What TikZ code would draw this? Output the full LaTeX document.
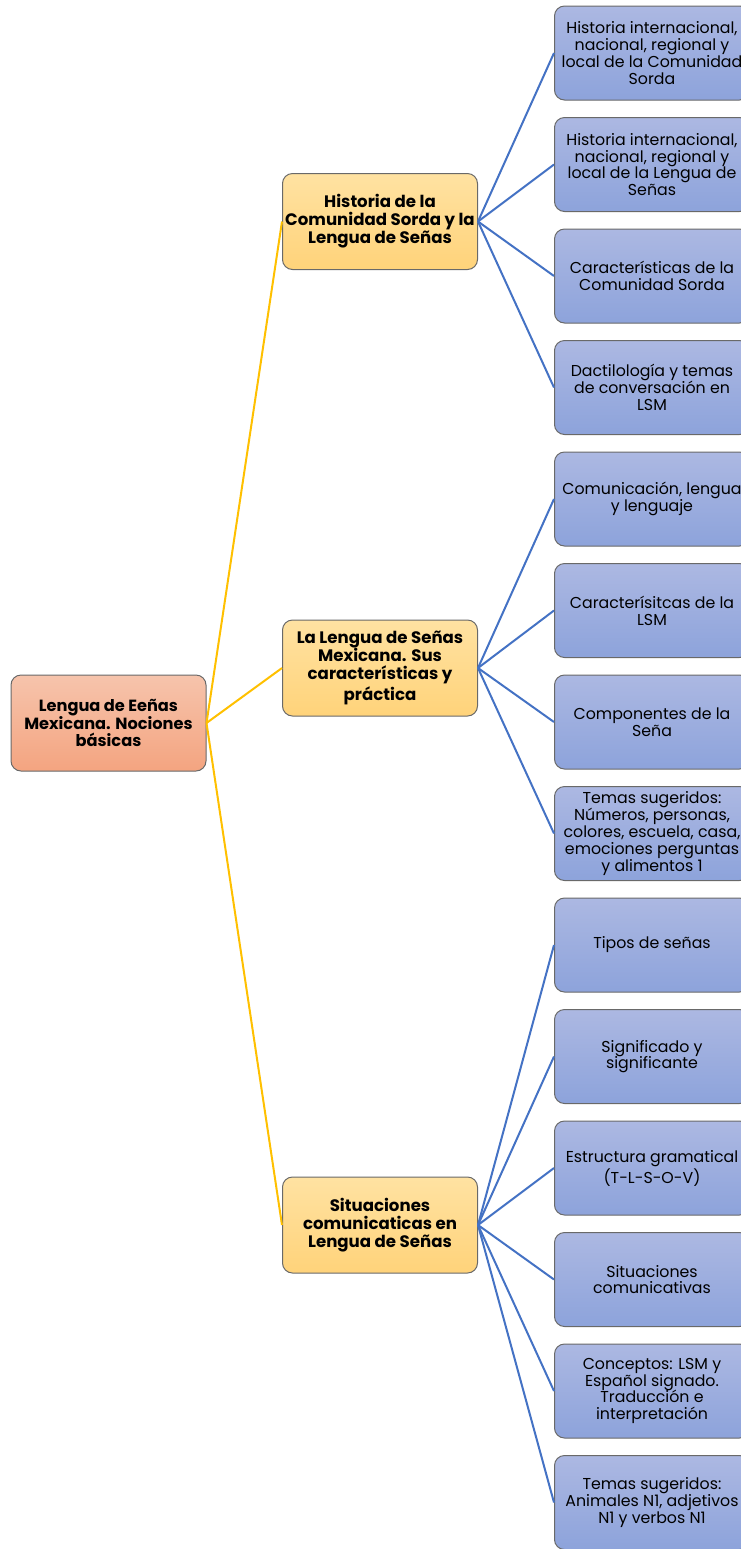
\documentclass[tikz,border=0pt]{standalone}
\usepackage{fontspec}
\setmainfont{Poppins}
\usepackage{xcolor}
\usepackage{tikz}

\definecolor{rootTop}{RGB}{246,196,172}
\definecolor{rootBot}{RGB}{244,164,128}
\definecolor{midTop}{RGB}{255,226,162}
\definecolor{midBot}{RGB}{255,211,122}
\definecolor{leafTop}{RGB}{172,184,226}
\definecolor{leafBot}{RGB}{141,163,219}
\definecolor{wireGold}{RGB}{255,192,0}
\definecolor{wireBlue}{RGB}{68,114,196}
\definecolor{edgeGrey}{RGB}{105,105,105}

\tikzset{
	box/.style={shape=rectangle, rounded corners=5pt, draw=edgeGrey, line width=0.5pt, inner sep=0, minimum width=97.5pt, minimum height=48pt, align=center},
	rootbox/.style={box, top color=rootTop, bottom color=rootBot, font=\bfseries\fontsize{8.1}{8.8}\selectfont},
	midbox/.style={box, top color=midTop, bottom color=midBot, font=\bfseries\fontsize{8.3}{9}\selectfont},
	leafbox/.style={box, minimum height=47pt, top color=leafTop, bottom color=leafBot, font=\fontsize{7.9}{8.4}\selectfont},
	goldwire/.style={draw=wireGold, line width=1pt},
	bluewire/.style={draw=wireBlue, line width=1pt},
}

\begin{document}
\begin{tikzpicture}[x=0.5pt, y=-0.5pt]
	\useasboundingbox (0, 0) rectangle (740, 1549);
	% Root and second level:
	\node[rootbox] (Root) at (108.5, 723) {Lengua de Eeñas\\Mexicana. Nociones\\básicas};
	\node[midbox] (Mid1) at (380, 221.5) {Historia de la\\Comunidad Sorda y la\\Lengua de Señas};
	\node[midbox] (Mid2) at (380, 668) {La Lengua de Señas\\Mexicana. Sus\\características y\\práctica};
	\node[midbox] (Mid3) at (380, 1225) {Situaciones\\comunicaticas en\\Lengua de Señas};
	% Leaves:
	\node[leafbox] (Leaf1) at (652, 53) {Historia internacional,\\nacional, regional y\\local de la Comunidad\\Sorda};
	\node[leafbox] (Leaf2) at (652, 164.5) {Historia internacional,\\nacional, regional y\\local de la Lengua de\\Señas};
	\node[leafbox] (Leaf3) at (652, 276) {Características de la\\Comunidad Sorda};
	\node[leafbox] (Leaf4) at (652, 387.5) {Dactilología y temas\\de conversación en\\LSM};
	\node[leafbox] (Leaf5) at (652, 499) {Comunicación, lengua\\y lenguaje};
	\node[leafbox] (Leaf6) at (652, 610.5) {Caracterísitcas de la\\LSM};
	\node[leafbox] (Leaf7) at (652, 722) {Componentes de la\\Seña};
	\node[leafbox] (Leaf8) at (652, 833.5) {Temas sugeridos:\\Números, personas,\\colores, escuela, casa,\\emociones perguntas\\y alimentos 1};
	\node[leafbox] (Leaf9) at (652, 945) {Tipos de señas};
	\node[leafbox] (Leaf10) at (652, 1056.5) {Significado y\\significante};
	\node[leafbox] (Leaf11) at (652, 1168) {Estructura gramatical\\(T-L-S-O-V)};
	\node[leafbox] (Leaf12) at (652, 1279.5) {Situaciones\\comunicativas};
	\node[leafbox] (Leaf13) at (652, 1391) {Conceptos: LSM y\\Español signado.\\Traducción e\\interpretación};
	\node[leafbox] (Leaf14) at (652, 1502.5) {Temas sugeridos:\\Animales N1, adjetivos\\N1 y verbos N1};
	% Wires:
	\draw[goldwire] (Root.east) -- (Mid1.west);
	\draw[goldwire] (Root.east) -- (Mid2.west);
	\draw[goldwire] (Root.east) -- (Mid3.west);
	\draw[bluewire] (Mid1.east) -- (Leaf1.west);
	\draw[bluewire] (Mid1.east) -- (Leaf2.west);
	\draw[bluewire] (Mid1.east) -- (Leaf3.west);
	\draw[bluewire] (Mid1.east) -- (Leaf4.west);
	\draw[bluewire] (Mid2.east) -- (Leaf5.west);
	\draw[bluewire] (Mid2.east) -- (Leaf6.west);
	\draw[bluewire] (Mid2.east) -- (Leaf7.west);
	\draw[bluewire] (Mid2.east) -- (Leaf8.west);
	\draw[bluewire] (Mid3.east) -- (Leaf9.west);
	\draw[bluewire] (Mid3.east) -- (Leaf10.west);
	\draw[bluewire] (Mid3.east) -- (Leaf11.west);
	\draw[bluewire] (Mid3.east) -- (Leaf12.west);
	\draw[bluewire] (Mid3.east) -- (Leaf13.west);
	\draw[bluewire] (Mid3.east) -- (Leaf14.west);
\end{tikzpicture}
\end{document}
